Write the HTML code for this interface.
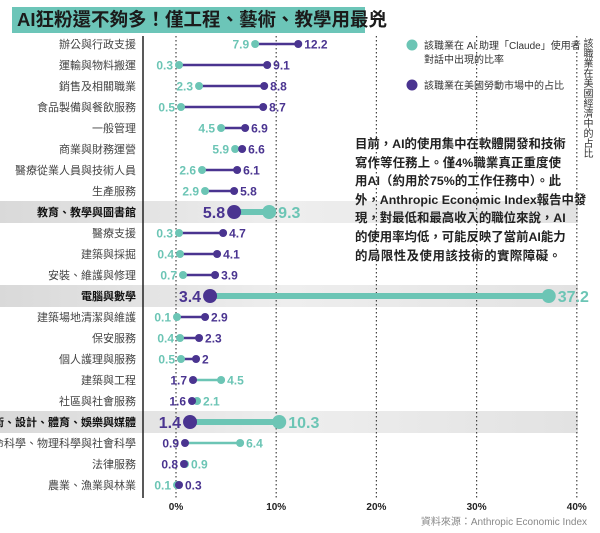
<!DOCTYPE html>
<html><head><meta charset="utf-8">
<style>
body{margin:0;background:#fff;width:600px;height:533px;overflow:hidden;font-family:"Liberation Sans","Noto Sans CJK TC",sans-serif;position:relative}
#title{position:absolute;left:12px;top:7px;width:353px;height:26px;background:#6cc5b8;font-size:18.5px;font-weight:bold;color:#1b1b1b;line-height:26px;padding-left:5px;box-sizing:border-box;white-space:nowrap}
#note{position:absolute;left:355px;top:135px;width:206px;font-size:12.4px;font-weight:bold;color:#222;line-height:18.6px}
#note div{text-align:justify;text-align-last:justify;white-space:nowrap}
#vtxt{position:absolute;left:580px;top:38px;writing-mode:vertical-rl;font-size:10px;color:#333;line-height:12px}
</style></head><body>
<svg id="chart" width="600" height="533" style="position:absolute;left:0;top:0"></svg>
<div id="title">AI狂粉還不夠多！僅工程、藝術、教學用最兇</div>
<div id="note">
<div>目前，AI的使用集中在軟體開發和技術</div>
<div>寫作等任務上。僅4%職業真正重度使</div>
<div>用AI（約用於75%的工作任務中）。此</div>
<div>外，Anthropic Economic Index報告中發</div>
<div>現，對最低和最高收入的職位來說，AI</div>
<div>的使用率均低，可能反映了當前AI能力</div>
<div>的局限性及使用該技術的實際障礙。</div>
</div>
<div id="vtxt">該職業在美國經濟中的占比</div>
<script>
const categories=["辦公與行政支援","運輸與物料搬運","銷售及相關職業","食品製備與餐飲服務","一般管理","商業與財務運營","醫療從業人員與技術人員","生產服務","教育、教學與圖書館","醫療支援","建築與採掘","安裝、維護與修理","電腦與數學","建築場地清潔與維護","保安服務","個人護理與服務","建築與工程","社區與社會服務","藝術、設計、體育、娛樂與媒體","生命科學、物理科學與社會科學","法律服務","農業、漁業與林業"];
const aiUsage=[7.9,0.3,2.3,0.5,4.5,5.9,2.6,2.9,9.3,0.3,0.4,0.7,37.2,0.1,0.4,0.5,4.5,2.1,10.3,6.4,0.9,0.1];
const laborShare=[12.2,9.1,8.8,8.7,6.9,6.6,6.1,5.8,5.8,4.7,4.1,3.9,3.4,2.9,2.3,2,1.7,1.6,1.4,0.9,0.8,0.3];
const highlighted=["教育、教學與圖書館","電腦與數學","藝術、設計、體育、娛樂與媒體"];
const ticks=[0,10,20,30,40];
const TEAL="#6cc5b5",PURP="#4a3490";
const svg=document.getElementById('chart');const NS="http://www.w3.org/2000/svg";
const x=v=>176+v*10.02;
const y=i=>44+i*21;
function mk(t,a,p){const e=document.createElementNS(NS,t);for(const k in a)e.setAttribute(k,a[k]);(p||svg).appendChild(e);return e;}
const defs=mk('defs',{});
const lg=mk('linearGradient',{id:'hlg',x1:'0',x2:'1',y1:'0',y2:'0'},defs);
mk('stop',{offset:'0','stop-color':'#d9d9d9'},lg);mk('stop',{offset:'0.5','stop-color':'#eeeeee'},lg);mk('stop',{offset:'1','stop-color':'#e2e2e2'},lg);
categories.forEach((c,i)=>{if(highlighted.includes(c)){const r=mk('rect',{x:0,y:y(i)-11,width:578,height:22,fill:'url(#hlg)'});

}});
ticks.forEach(t=>{const l=mk('line',{x1:x(t),x2:x(t),y1:36,y2:498,stroke:'#444','stroke-width':1.2,'stroke-dasharray':'1.5,2.5'});


const tx=mk('text',{x:x(t),y:510,'text-anchor':'middle','font-size':10,'font-weight':'bold',fill:'#222'});tx.textContent=t+'%';

});
const ax=mk('line',{x1:143,x2:143,y1:36,y2:498,stroke:'#222','stroke-width':1.5});


categories.forEach((c,i)=>{const hl=highlighted.includes(c);const yy=y(i);
const lb=mk('text',{x:136,y:yy+4,'text-anchor':'end','font-size':hl?11:11,'font-weight':hl?'bold':'normal',fill:hl?'#111':'#444'});lb.textContent=c;


const a=aiUsage[i],b=laborShare[i];const big=a>b?TEAL:PURP;
const ln=mk('line',{x1:x(a),x2:x(b),y1:yy,y2:yy,stroke:big,'stroke-width':hl?6:2.5});


const r=hl?7:4,fs=hl?16:12;
const lo=a<=b?{v:a,c:TEAL}:{v:b,c:PURP};const hi=a<=b?{v:b,c:PURP}:{v:a,c:TEAL};
[[a,TEAL,'ai-dot'],[b,PURP,'labor-dot']].forEach(d=>{const ci=mk('circle',{cx:x(d[0]),cy:yy,r:r,fill:d[1]});

});
const t1=mk('text',{x:x(lo.v)-r-2,y:yy+fs*0.36,'text-anchor':'end','font-size':fs,'font-weight':'bold',fill:lo.c});t1.textContent=lo.v;


const t2=mk('text',{x:x(hi.v)+r+2,y:yy+fs*0.36,'font-size':fs,'font-weight':'bold',fill:hi.c});t2.textContent=hi.v;

});
const l1=mk('circle',{cx:412,cy:45,r:5.5,fill:TEAL});
const lt1=mk('text',{x:424,y:49,'font-size':10,fill:'#333'});lt1.textContent='該職業在 AI 助理「Claude」使用者';
const lt1b=mk('text',{x:424,y:63,'font-size':10,fill:'#333'});lt1b.textContent='對話中出現的比率';
const l2=mk('circle',{cx:412,cy:85,r:5.5,fill:PURP});
const lt2=mk('text',{x:424,y:89,'font-size':10,fill:'#333'});lt2.textContent='該職業在美國勞動市場中的占比';
const src=mk('text',{x:587,y:525,'text-anchor':'end','font-size':10,fill:'#888'});src.textContent='資料來源：Anthropic Economic Index';


</script>
</body></html>
